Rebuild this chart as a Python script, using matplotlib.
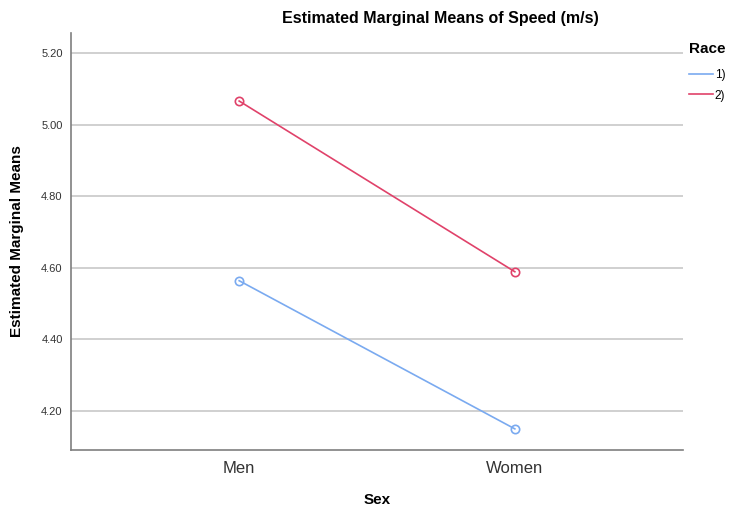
import matplotlib.pyplot as plt

plt.rcParams['font.family'] = ['Liberation Sans', 'DejaVu Sans']

sexes = ["Men", "Women"]
race_labels = ["1)", "2)"]
race1 = [4.564, 4.150]
race2 = [5.066, 4.589]
colors = ["#7aaaf0", "#e0426a"]
yticks = [4.20, 4.40, 4.60, 4.80, 5.00, 5.20]

fig = plt.figure(figsize=(7.31, 5.11), dpi=100)
ax = fig.add_axes([71/731, 1 - 450/511, 612/731, (450 - 33)/511])

x = list(range(len(sexes)))
for vals, c, lab in zip([race1, race2], colors, race_labels):
    ax.plot(x, vals, color=c, linewidth=1.2, marker="o", markersize=6,
            markerfacecolor="none", markeredgecolor=c, markeredgewidth=1.2, label=lab)

ax.set_xlim(-0.61, 1.61)
ax.set_ylim(4.091, 5.256)
ax.set_yticks(yticks)
ax.set_yticklabels([f"{t:.2f}" for t in yticks], fontsize=8, color="#333333")
ax.set_xticks(x)
ax.set_xticklabels(sexes, fontsize=12, color="#333333")
ax.tick_params(axis="x", length=0, pad=8)
ax.tick_params(axis="y", length=0, pad=6)
ax.grid(axis="y", color="#c8c8c8", linewidth=1.2)
ax.set_axisbelow(True)
for s in ["top", "right"]:
    ax.spines[s].set_visible(False)
for s in ["left", "bottom"]:
    ax.spines[s].set_color("#7f7f7f")
    ax.spines[s].set_linewidth(1.2)

ax.set_xlabel("Sex", fontsize=11, fontweight="bold", labelpad=12)
ax.set_ylabel("Estimated Marginal Means", fontsize=11, fontweight="bold", labelpad=12)
fig.text(440/731, 1 - 18/511, "Estimated Marginal Means of Speed (m/s)",
         ha="center", va="center", fontsize=11.5, fontweight="bold")

leg = ax.legend(title="Race", loc="upper left", bbox_to_anchor=(1.0, 0.992),
                frameon=False, fontsize=8.5, title_fontsize=11,
                handlelength=2.0, handletextpad=0.2, borderaxespad=0.2,
                borderpad=0.3, labelspacing=0.75, alignment="left")
leg.get_title().set_fontweight("bold")
leg._legend_box.sep = 9
for h in leg.legend_handles:
    h.set_marker("")

fig.savefig("out.png", dpi=100)
